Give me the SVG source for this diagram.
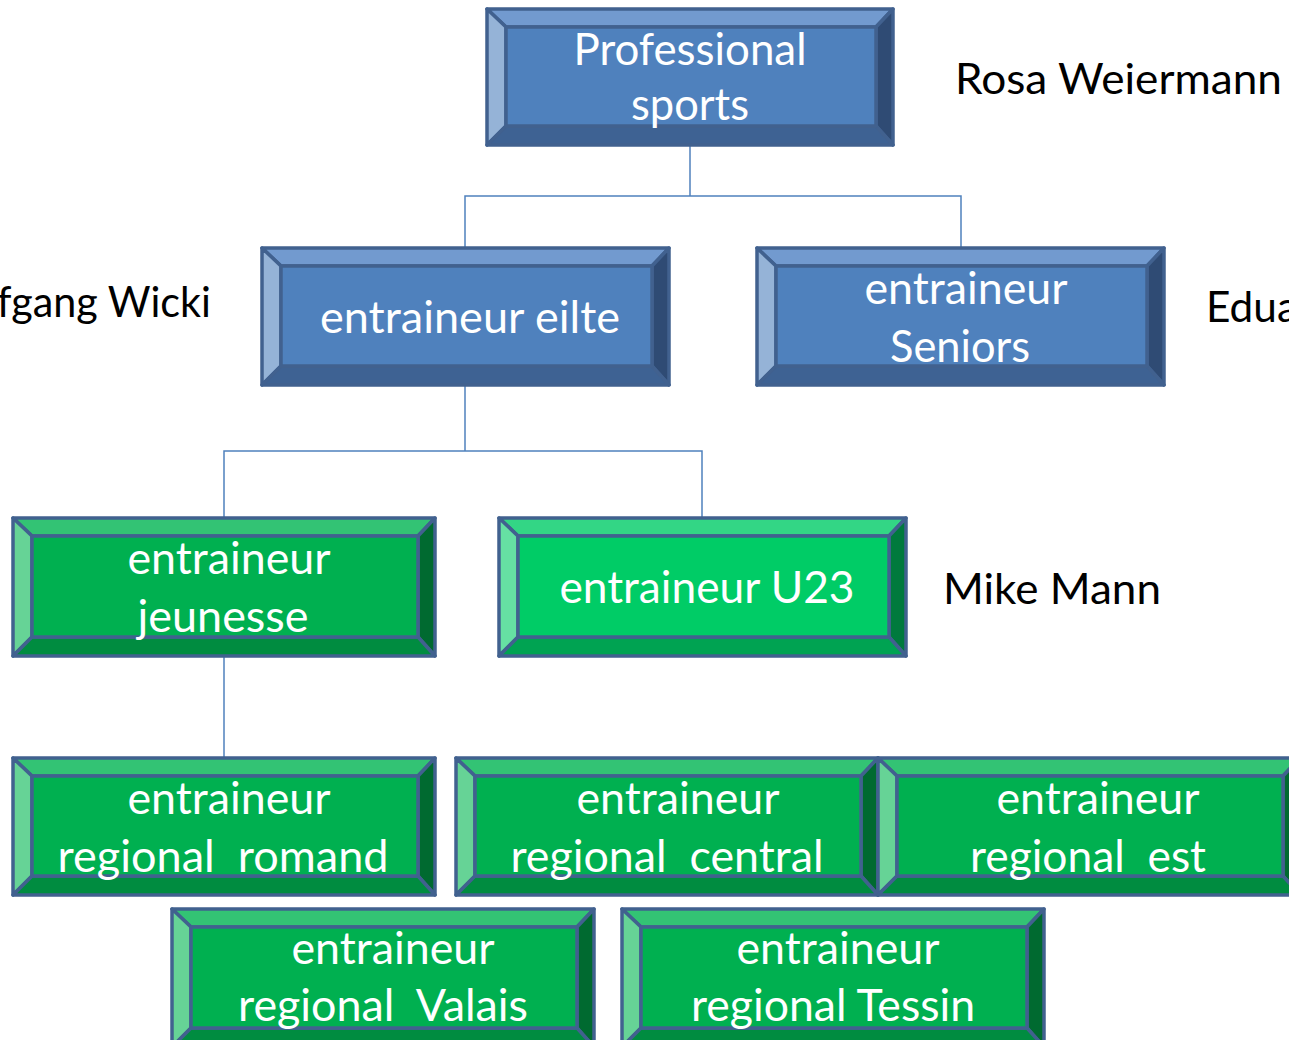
<svg xmlns="http://www.w3.org/2000/svg" width="1289" height="1040" viewBox="0 0 1289 1040">
<style>
  polygon, rect.f { stroke: #41618F; stroke-width: 3.5; stroke-linejoin: round; }
  .b .t { fill: #729ACF; } .b .l { fill: #95B3D7; } .b .r { fill: #2F4B74; } .b .d { fill: #3E6293; } .b .f { fill: #4F81BD; }
  .g .t { fill: #33C374; } .g .l { fill: #66D396; } .g .r { fill: #006A30; } .g .d { fill: #008C40; } .g .f { fill: #00B050; }
  .u .t { fill: #33D685; } .u .l { fill: #66E0A3; } .u .r { fill: #007A3D; } .u .d { fill: #00A352; } .u .f { fill: #00CC66; }
  text { font-family: Lato, "Open Sans", "Liberation Sans", sans-serif; font-size: 44px; }
  .w { fill: #FFFFFF; text-anchor: middle; }
  .k { fill: #000000; font-size: 43px; }
  .c { fill: none; stroke: #4F81BD; stroke-width: 1.5; }
</style>
<rect width="1289" height="1040" fill="#FFFFFF"/>
<g id="connectors">
  <polyline class="c" points="690,145 690,196"/>
  <polyline class="c" points="465,248 465,196 961,196 961,248"/>
  <polyline class="c" points="465,385 465,451"/>
  <polyline class="c" points="224,518 224,451 702,451 702,518"/>
  <polyline class="c" points="224,656 224,758"/>
</g>
<g id="node-professional" class="b">
  <polygon class="t" points="487,9 893,9 876,27 506,27"/>
  <polygon class="l" points="487,9 506,27 506,126 487,145"/>
  <polygon class="r" points="893,9 893,145 876,126 876,27"/>
  <polygon class="d" points="487,145 506,126 876,126 893,145"/>
  <rect class="f" x="506" y="27" width="370" height="99"/>
  <text class="w" x="690" y="65" textLength="233" lengthAdjust="spacingAndGlyphs">Professional</text>
  <text class="w" x="690" y="120" textLength="118" lengthAdjust="spacingAndGlyphs">sports</text>
</g>
<g id="node-eilte" class="b">
  <polygon class="t" points="262,248 669,248 652,266 281,266"/>
  <polygon class="l" points="262,248 281,266 281,366 262,385"/>
  <polygon class="r" points="669,248 669,385 652,366 652,266"/>
  <polygon class="d" points="262,385 281,366 652,366 669,385"/>
  <rect class="f" x="281" y="266" width="371" height="100"/>
  <text class="w" x="470" y="333" textLength="300" lengthAdjust="spacingAndGlyphs">entraineur eilte</text>
</g>
<g id="node-seniors" class="b">
  <polygon class="t" points="757,248 1164,248 1147,266 776,266"/>
  <polygon class="l" points="757,248 776,266 776,366 757,385"/>
  <polygon class="r" points="1164,248 1164,385 1147,366 1147,266"/>
  <polygon class="d" points="757,385 776,366 1147,366 1164,385"/>
  <rect class="f" x="776" y="266" width="371" height="100"/>
  <text class="w" x="966" y="304" textLength="203" lengthAdjust="spacingAndGlyphs">entraineur</text>
  <text class="w" x="960" y="362" textLength="140" lengthAdjust="spacingAndGlyphs">Seniors</text>
</g>
<g id="node-jeunesse" class="g">
  <polygon class="t" points="13,518 435,518 418,536 32,536"/>
  <polygon class="l" points="13,518 32,536 32,637 13,656"/>
  <polygon class="r" points="435,518 435,656 418,637 418,536"/>
  <polygon class="d" points="13,656 32,637 418,637 435,656"/>
  <rect class="f" x="32" y="536" width="386" height="101"/>
  <text class="w" x="229" y="574" textLength="203" lengthAdjust="spacingAndGlyphs">entraineur</text>
  <text class="w" x="223" y="632" textLength="171" lengthAdjust="spacingAndGlyphs">jeunesse</text>
</g>
<g id="node-u23" class="u">
  <polygon class="t" points="499,518 906,518 889,536 518,536"/>
  <polygon class="l" points="499,518 518,536 518,637 499,656"/>
  <polygon class="r" points="906,518 906,656 889,637 889,536"/>
  <polygon class="d" points="499,656 518,637 889,637 906,656"/>
  <rect class="f" x="518" y="536" width="371" height="101"/>
  <text class="w" x="707" y="603" textLength="295" lengthAdjust="spacingAndGlyphs">entraineur U23</text>
</g>
<g id="node-romand" class="g">
  <polygon class="t" points="13,758 435,758 418,776 32,776"/>
  <polygon class="l" points="13,758 32,776 32,876 13,895"/>
  <polygon class="r" points="435,758 435,895 418,876 418,776"/>
  <polygon class="d" points="13,895 32,876 418,876 435,895"/>
  <rect class="f" x="32" y="776" width="386" height="100"/>
  <text class="w" x="229" y="814" textLength="203" lengthAdjust="spacingAndGlyphs">entraineur</text>
  <text class="w" x="223" y="872" textLength="331" lengthAdjust="spacingAndGlyphs" xml:space="preserve">regional  romand</text>
</g>
<g id="node-central" class="g">
  <polygon class="t" points="456,758 878,758 861,776 475,776"/>
  <polygon class="l" points="456,758 475,776 475,876 456,895"/>
  <polygon class="r" points="878,758 878,895 861,876 861,776"/>
  <polygon class="d" points="456,895 475,876 861,876 878,895"/>
  <rect class="f" x="475" y="776" width="386" height="100"/>
  <text class="w" x="678" y="814" textLength="203" lengthAdjust="spacingAndGlyphs">entraineur</text>
  <text class="w" x="667" y="872" textLength="313" lengthAdjust="spacingAndGlyphs" xml:space="preserve">regional  central</text>
</g>
<g id="node-est" class="g">
  <polygon class="t" points="878,758 1300,758 1283,776 897,776"/>
  <polygon class="l" points="878,758 897,776 897,876 878,895"/>
  <polygon class="r" points="1300,758 1300,895 1283,876 1283,776"/>
  <polygon class="d" points="878,895 897,876 1283,876 1300,895"/>
  <rect class="f" x="897" y="776" width="386" height="100"/>
  <text class="w" x="1098" y="814" textLength="203" lengthAdjust="spacingAndGlyphs">entraineur</text>
  <text class="w" x="1088" y="872" textLength="236" lengthAdjust="spacingAndGlyphs" xml:space="preserve">regional  est</text>
</g>
<g id="node-valais" class="g">
  <polygon class="t" points="172,909 594,909 577,927 191,927"/>
  <polygon class="l" points="172,909 191,927 191,1028 172,1047"/>
  <polygon class="r" points="594,909 594,1047 577,1028 577,927"/>
  <polygon class="d" points="172,1047 191,1028 577,1028 594,1047"/>
  <rect class="f" x="191" y="927" width="386" height="101"/>
  <text class="w" x="393" y="964" textLength="203" lengthAdjust="spacingAndGlyphs">entraineur</text>
  <text class="w" x="383" y="1021" textLength="290" lengthAdjust="spacingAndGlyphs" xml:space="preserve">regional  Valais</text>
</g>
<g id="node-tessin" class="g">
  <polygon class="t" points="622,909 1044,909 1027,927 641,927"/>
  <polygon class="l" points="622,909 641,927 641,1028 622,1047"/>
  <polygon class="r" points="1044,909 1044,1047 1027,1028 1027,927"/>
  <polygon class="d" points="622,1047 641,1028 1027,1028 1044,1047"/>
  <rect class="f" x="641" y="927" width="386" height="101"/>
  <text class="w" x="838" y="964" textLength="203" lengthAdjust="spacingAndGlyphs">entraineur</text>
  <text class="w" x="833" y="1021" textLength="284" lengthAdjust="spacingAndGlyphs">regional Tessin</text>
</g>
<g id="labels">
  <text class="k" x="955" y="94" textLength="327" lengthAdjust="spacingAndGlyphs">Rosa Weiermann</text>
  <text class="k" x="-3" y="317" textLength="214" lengthAdjust="spacingAndGlyphs">fgang Wicki</text>
  <text class="k" x="1206" y="322" textLength="92" lengthAdjust="spacingAndGlyphs">Edua</text>
  <text class="k" x="943" y="604" textLength="218" lengthAdjust="spacingAndGlyphs">Mike Mann</text>
</g>
</svg>
